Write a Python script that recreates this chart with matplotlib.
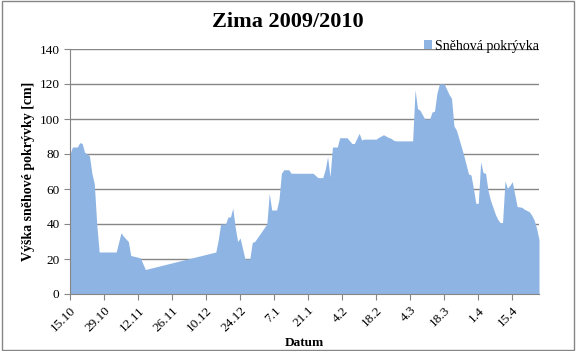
import matplotlib
matplotlib.use("Agg")
import matplotlib.pyplot as plt
import matplotlib.ticker as mticker
import matplotlib.dates as mdates
import numpy as np
import pandas as pd

# days since 15.10.2009 and snow depth [cm]
start = "2009-10-15"
day_offsets = [0, 1, 3, 4, 5, 6, 8, 9, 10, 11, 12, 19, 21, 22, 24, 25, 28, 29, 31,
               60, 61, 62, 64, 65, 66, 67, 68, 69, 70, 72, 74, 75, 76, 78, 79, 81,
               82, 83, 85, 86, 87, 88, 90, 91, 100, 102, 104, 105, 106, 107, 108,
               110, 111, 114, 116, 117, 119, 120, 121, 126, 127, 129, 131, 132, 133,
               134, 141, 142, 143, 144, 146, 148, 149, 150, 151, 152, 154, 156, 157,
               158, 159, 160, 162, 164, 165, 166, 167, 168, 169, 170, 171, 172, 173,
               175, 176, 177, 178, 179, 180, 181, 182, 183, 184, 186, 187, 189, 190,
               191, 192, 193]
snow = [80, 84, 84, 86.5, 86, 81, 79, 69, 63, 40, 24, 24, 35, 33, 30, 22, 21, 20.5, 14,
        24, 31, 40, 40, 44, 44, 49, 38, 30, 32, 20, 20, 29.5, 30, 34, 36, 40,
        57.5, 48, 48, 54, 69, 71, 71, 69, 69, 66.5, 66.5, 71, 78.5, 67, 84,
        84, 89.3, 89.3, 86, 86, 91.8, 88, 88.5, 88.5, 89.5, 91, 89.5, 89, 88,
        87.5, 87.5, 116.6, 106, 105, 100, 100, 104, 104.5, 114.7, 120, 120, 114, 111.8,
        96, 93.7, 89, 79.4, 68.6, 68, 60.4, 51.8, 51.8, 75.6, 69.3, 69, 59.4, 53.7,
        45.7, 42.7, 40.8, 40.8, 64.6, 60.4, 62, 64.2, 57, 50, 49.5, 48.4, 47, 45,
        42.3, 37.6, 31]

title = "Zima 2009/2010"
series_name = "Sněhová pokrývka"
y_label = "Výška sněhové pokrývky [cm]"
x_label = "Datum"

dates = pd.Timestamp(start) + pd.to_timedelta(day_offsets, unit="D")
tick_dates = pd.date_range(start, periods=14, freq="14D")

plt.rcParams['font.family'] = ['Liberation Serif', 'DejaVu Serif']

fig = plt.figure(figsize=(5.76, 3.51), dpi=100)
ax = fig.add_axes([70 / 576, 1 - 294 / 351, 469 / 576, 245 / 351])

blue = '#8EB4E3'
ax.fill_between(dates, snow, 0, color=blue, linewidth=0, label=series_name)

ax.set_xlim(dates[0], dates[-1])
ax.set_ylim(0, 140)
ax.set_yticks(np.arange(0, 141, 20))
ax.yaxis.grid(True, color='#868686', linewidth=1)
ax.set_axisbelow(True)

ax.set_xticks(tick_dates)
ax.xaxis.set_major_formatter(mticker.FuncFormatter(
    lambda v, pos: f"{mdates.num2date(v).day}.{mdates.num2date(v).month}"))
plt.setp(ax.get_xticklabels(), rotation=45, ha='right', rotation_mode='anchor')

for s in ['top', 'right']:
    ax.spines[s].set_visible(False)
for s in ['left', 'bottom']:
    ax.spines[s].set_color('#868686')
ax.tick_params(axis='both', colors='#868686', labelcolor='black', labelsize=9.5,
               length=4, direction='out')

ax.set_ylabel(y_label, fontsize=10, fontweight='bold', labelpad=3)
ax.set_xlabel(x_label, fontsize=9.5, fontweight='bold', labelpad=2)
fig.text(0.5, 1 - 22 / 351, title, ha='center', va='center', fontsize=16, fontweight='bold')

ax.legend(loc='lower right', bbox_to_anchor=(1.0, 0.985), frameon=False, fontsize=10,
          handlelength=0.6, handleheight=0.6, handletextpad=0.2, borderpad=0, borderaxespad=0)

fig.patches.append(plt.Rectangle((0.003, 0.004), 0.994, 0.992, transform=fig.transFigure,
                                 fill=False, edgecolor='#868686', linewidth=1))

fig.savefig("out.png", dpi=100)
